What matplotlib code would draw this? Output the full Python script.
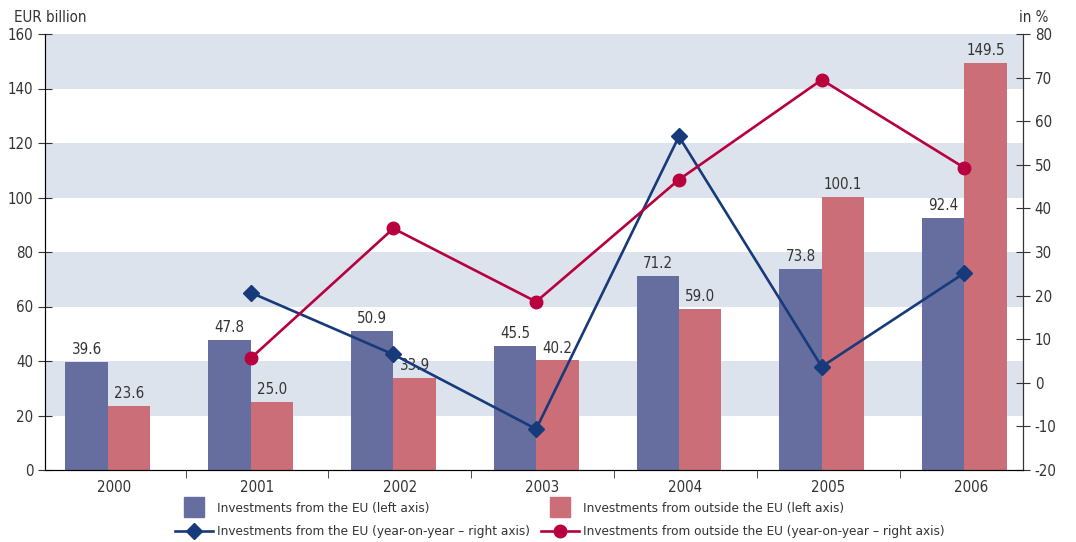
import numpy as np
import matplotlib.pyplot as plt
from matplotlib import font_manager
from matplotlib.lines import Line2D

years = ["2000", "2001", "2002", "2003", "2004", "2005", "2006"]
eu_bn = [39.6, 47.8, 50.9, 45.5, 71.2, 73.8, 92.4]
out_bn = [23.6, 25.0, 33.9, 40.2, 59.0, 100.1, 149.5]
# year-on-year change, right axis (from 2001)
eu_yoy = [20.7, 6.5, -10.6, 56.5, 3.7, 25.2]
out_yoy = [5.6, 35.4, 18.6, 46.6, 69.5, 49.3]

c_eu_bar = "#666e9f"
c_out_bar = "#cc6e78"
c_eu_line = "#173a7a"
c_out_line = "#b8003e"
c_band = "#dde3ed"
c_text = "#333333"

# look for a narrow / condensed face, the original uses a condensed font
narrow = None
for f in font_manager.fontManager.ttflist:
    st = str(f.stretch).lower()
    if f.style == "normal" and f.weight in (400, "normal") and (
            "narrow" in f.name.lower() or "condensed" in f.name.lower()
            or st in ("condensed", "semi-condensed", "500", "600")):
        narrow = f
        break

if narrow is not None:
    plt.rcParams["font.family"] = [narrow.name, "DejaVu Sans"]
    plt.rcParams["font.stretch"] = narrow.stretch
    fs, fs_leg = 10.8, 9.7
else:
    plt.rcParams["font.family"] = ["Liberation Sans", "DejaVu Sans"]
    fs, fs_leg = 9.6, 8.4
plt.rcParams["axes.unicode_minus"] = False

fig = plt.figure(figsize=(10.76, 5.42), dpi=100)
ax = fig.add_axes([45 / 1076, 1 - 470 / 542, 978 / 1076, 436 / 542])

for lo in (20, 60, 100, 140):
    ax.axhspan(lo, lo + 20, color=c_band, zorder=0, lw=0)

x = np.arange(len(years))
w = 0.297
ax.bar(x - w / 2, eu_bn, w, color=c_eu_bar, zorder=2)
ax.bar(x + w / 2, out_bn, w, color=c_out_bar, zorder=2)
for xi, v in zip(x, eu_bn):
    ax.text(xi - w / 2, v + 1.8, f"{v:.1f}", ha="center", va="bottom", fontsize=fs, color=c_text, zorder=5)
for xi, v in zip(x, out_bn):
    ax.text(xi + w / 2, v + 1.8, f"{v:.1f}", ha="center", va="bottom", fontsize=fs, color=c_text, zorder=5)

ax.set_ylim(0, 160)
ax.set_xlim(-0.44, 6.41)
ax.set_yticks(range(0, 161, 20))
off = 0.045
ax.set_xticks(x + off)
ax.set_xticklabels(years)
ax.set_xticks(x[:-1] + 0.5 + off, minor=True)
ax.tick_params(axis="x", which="major", length=0, pad=7, labelsize=fs, colors=c_text)
ax.tick_params(axis="x", which="minor", length=6, direction="out", color="#333333")
ax.tick_params(axis="y", direction="inout", length=10, labelsize=fs, colors=c_text, color="#333333")
ax.spines["top"].set_visible(False)
for s in ("left", "right", "bottom"):
    ax.spines[s].set_color("#333333")

ax2 = ax.twinx()
ax2.set_ylim(-20, 80)
ax2.set_yticks(range(-20, 81, 10))
ax2.tick_params(axis="y", direction="inout", length=10, labelsize=fs, colors=c_text, color="#333333")
ax2.spines["top"].set_visible(False)
ax2.spines["right"].set_color("#333333")
ax2.plot(x[1:], eu_yoy, color=c_eu_line, lw=1.9, marker="D", ms=8, zorder=4)
ax2.plot(x[1:], out_yoy, color=c_out_line, lw=1.9, marker="o", ms=9, zorder=4)

fig.text(14 / 1076, 1 - 18 / 542, "EUR billion", fontsize=fs, color=c_text, va="center")
fig.text(1048 / 1076, 1 - 18 / 542, "in %", fontsize=fs, color=c_text, va="center", ha="right")

sq_eu = Line2D([], [], ls="none", marker="s", ms=15, color=c_eu_bar)
sq_out = Line2D([], [], ls="none", marker="s", ms=15, color=c_out_bar)
ln_eu = Line2D([], [], color=c_eu_line, lw=1.9, marker="D", ms=8)
ln_out = Line2D([], [], color=c_out_line, lw=1.9, marker="o", ms=9)

leg_kw = dict(loc="center left", frameon=False, fontsize=fs_leg, labelcolor=c_text,
              handlelength=2.8, handletextpad=0.3, labelspacing=0.8, borderpad=0,
              borderaxespad=0)
fig.legend([sq_eu, ln_eu],
           ["Investments from the EU (left axis)",
            "Investments from the EU (year-on-year \u2013 right axis)"],
           bbox_to_anchor=(175 / 1076, 1 - 520 / 542), **leg_kw)
fig.legend([sq_out, ln_out],
           ["Investments from outside the EU (left axis)",
            "Investments from outside the EU (year-on-year \u2013 right axis)"],
           bbox_to_anchor=(541 / 1076, 1 - 520 / 542), **leg_kw)

fig.savefig("out.png", dpi=100)
